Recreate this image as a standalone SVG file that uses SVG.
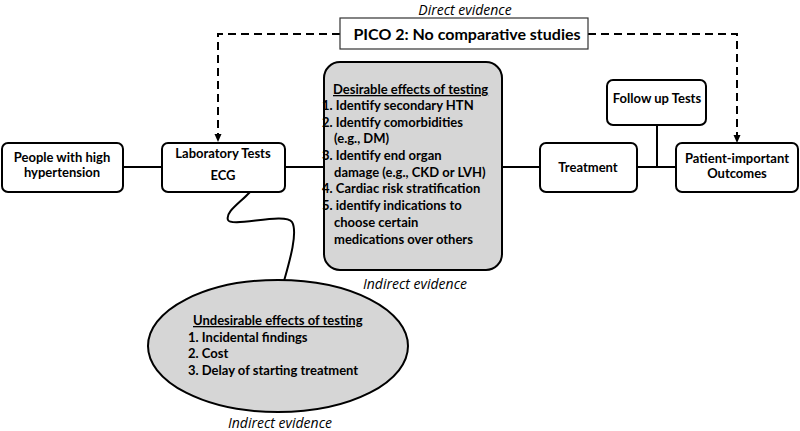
<svg xmlns="http://www.w3.org/2000/svg" width="800" height="431" viewBox="0 0 800 431">
<defs>
<style>
.box{fill:#fff;stroke:#000;stroke-width:2}
.gray{fill:#d6d6d6;stroke:#000;stroke-width:2}
.t{font-family:Lato,"Liberation Sans",sans-serif;font-weight:bold;font-size:13px;fill:#000}
.c{text-anchor:middle}
.i{font-family:"Open Sans","Liberation Sans",sans-serif;font-style:italic;font-size:14px;fill:#000;text-anchor:middle}
.ln{fill:none;stroke:#000;stroke-width:2}
.dash{fill:none;stroke:#000;stroke-width:2;stroke-dasharray:8,5}
</style>
</defs>
<g id="connectors">
<path class="dash" d="M340,34 H218 V136"/>
<path d="M218,134 L214.5,134 L218,142 L221.5,134 Z" fill="#000"/>
<path class="dash" d="M588,34 H737 V137"/>
<path d="M737,135 L733.5,135 L737,143 L740.5,135 Z" fill="#000"/>
<line class="ln" x1="123" y1="167" x2="162" y2="167"/>
<line class="ln" x1="285" y1="167" x2="324" y2="167"/>
<line class="ln" x1="502" y1="167" x2="540" y2="167"/>
<line class="ln" x1="637" y1="167" x2="676" y2="167"/>
<line class="ln" x1="657" y1="125" x2="657" y2="167"/>
<path class="ln" d="M250,192 C240,203 225,212 228,220 C231,228 285,212 292,222 C298,232 290,260 284,281"/>
</g>
<text class="i" x="465" y="15">Direct evidence</text>
<g id="pico">
<rect x="340" y="18" width="248" height="31" fill="#fff" stroke="#333" stroke-width="1.2"/>
<text class="t c" x="467" y="40" style="font-size:16px">PICO 2: No comparative studies</text>
</g>
<g id="people">
<rect class="box" x="2" y="143" width="121" height="49" rx="6"/>
<text class="t c" x="62" y="162">People with high</text>
<text class="t c" x="62" y="177">hypertension</text>
</g>
<g id="lab">
<rect class="box" x="162" y="143" width="123" height="49" rx="6"/>
<text class="t c" x="223" y="158">Laboratory Tests</text>
<text class="t c" x="223" y="180">ECG</text>
</g>
<g id="desirable">
<rect class="gray" x="324" y="62" width="178" height="208" rx="16"/>
<text class="t" x="333" y="94" text-decoration="underline">Desirable effects of testing</text>
<text class="t" x="322" y="110">1. Identify secondary HTN</text>
<text class="t" x="322" y="127">2. Identify comorbidities</text>
<text class="t" x="334" y="143">(e.g., DM)</text>
<text class="t" x="322" y="160">3. Identify end organ</text>
<text class="t" x="334" y="177">damage (e.g., CKD or LVH)</text>
<text class="t" x="322" y="193">4. Cardiac risk stratification</text>
<text class="t" x="322" y="210">5. identify indications to</text>
<text class="t" x="334" y="227">choose certain</text>
<text class="t" x="334" y="244">medications over others</text>
</g>
<text class="i" x="415" y="289">Indirect evidence</text>
<g id="undesirable">
<ellipse class="gray" cx="278" cy="346" rx="130" ry="66"/>
<text class="t" x="193" y="325" text-decoration="underline">Undesirable effects of testing</text>
<text class="t" x="188" y="342">1. Incidental findings</text>
<text class="t" x="188" y="358">2. Cost</text>
<text class="t" x="188" y="375">3. Delay of starting treatment</text>
</g>
<text class="i" x="280" y="428">Indirect evidence</text>
<g id="treatment">
<rect class="box" x="540" y="143" width="97" height="49" rx="6"/>
<text class="t c" x="588" y="172">Treatment</text>
</g>
<g id="followup">
<rect class="box" x="607" y="80" width="99" height="45" rx="6"/>
<text class="t c" x="657" y="103">Follow up Tests</text>
</g>
<g id="patient">
<rect class="box" x="676" y="143" width="122" height="49" rx="6"/>
<text class="t c" x="737" y="163">Patient-important</text>
<text class="t c" x="737" y="178">Outcomes</text>
</g>
</svg>
